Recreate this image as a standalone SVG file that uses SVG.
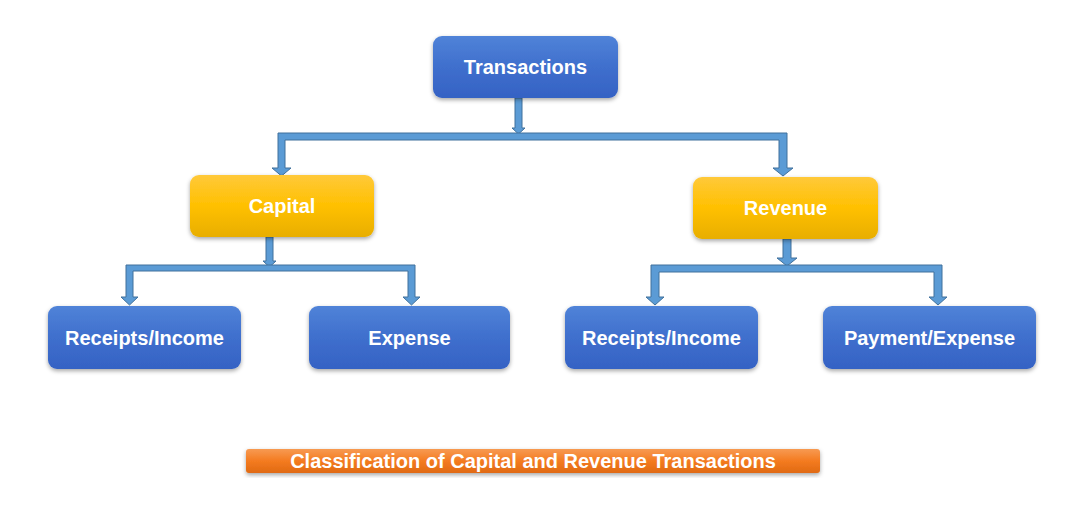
<svg xmlns="http://www.w3.org/2000/svg" width="1084" height="511" viewBox="0 0 1084 511">
<defs>
<linearGradient id="gBlue" x1="0" y1="0" x2="0" y2="1">
<stop offset="0" stop-color="#5083d8"/>
<stop offset="0.5" stop-color="#3f6fcd"/>
<stop offset="1" stop-color="#3562c4"/>
</linearGradient>
<linearGradient id="gYellow" x1="0" y1="0" x2="0" y2="1">
<stop offset="0" stop-color="#ffc93a"/>
<stop offset="0.5" stop-color="#ffc000"/>
<stop offset="1" stop-color="#e8ae00"/>
</linearGradient>
<linearGradient id="gOrange" x1="0" y1="0" x2="0" y2="1">
<stop offset="0" stop-color="#f79a52"/>
<stop offset="0.5" stop-color="#f47b20"/>
<stop offset="1" stop-color="#e06a12"/>
</linearGradient>
<filter id="sh" x="-10%" y="-10%" width="120%" height="130%">
<feDropShadow dx="0" dy="2" stdDeviation="2" flood-color="#000" flood-opacity="0.35"/>
</filter>
</defs>
<style>
.blue{fill:url(#gBlue);filter:url(#sh)}
.yel{fill:url(#gYellow);filter:url(#sh)}
.org{fill:url(#gOrange);filter:url(#sh)}
.t{font-family:"Liberation Sans",Arial,sans-serif;font-weight:bold;font-size:20px;fill:#fff;text-anchor:middle;dominant-baseline:central}
.c{font-size:20px}
.arr{fill:#5b9bd5;stroke:#41719c;stroke-width:1}
</style>
<rect width="1084" height="511" fill="#fff"/>
<g id="connectors">
<polygon class="arr" points="515,98 522,98 522,128 525,128 518.5,134 512,128 515,128"/>
<polygon class="arr" points="278,133 787,133 787,168 793,168 783,176 773,168 779,168 779,140 285,140 285,168 291,168 281.5,176 272,168 278,168"/>
<polygon class="arr" points="266,237 273,237 273,261 276,261 269.5,267 263,261 266,261"/>
<polygon class="arr" points="126,265 415,265 415,297 420,297 411.5,305 403,297 408,297 408,271 133,271 133,297 138,297 129.5,305 121,297 126,297"/>
<polygon class="arr" points="783,239 791,239 791,258 797,258 787,266 777,258 783,258"/>
<polygon class="arr" points="651,265 942,265 942,297 947,297 938,305 929,297 934,297 934,272 659,272 659,297 664,297 655,305 646,297 651,297"/>
</g>
<g id="transactions"><rect class="blue" x="433" y="36" width="185" height="62" rx="9"/><text class="t" x="525.5" y="67">Transactions</text></g>
<g id="capital"><rect class="yel" x="190" y="175" width="184" height="62" rx="9"/><text class="t" x="282" y="206">Capital</text></g>
<g id="revenue"><rect class="yel" x="693" y="177" width="185" height="62" rx="9"/><text class="t" x="785.5" y="208">Revenue</text></g>
<g id="cap-receipts"><rect class="blue" x="48" y="306" width="193" height="63" rx="9"/><text class="t" x="144.5" y="338">Receipts/Income</text></g>
<g id="cap-expense"><rect class="blue" x="309" y="306" width="201" height="63" rx="9"/><text class="t" x="409.5" y="338">Expense</text></g>
<g id="rev-receipts"><rect class="blue" x="565" y="306" width="193" height="63" rx="9"/><text class="t" x="661.5" y="338">Receipts/Income</text></g>
<g id="rev-payment"><rect class="blue" x="823" y="306" width="213" height="63" rx="9"/><text class="t" x="929.5" y="338">Payment/Expense</text></g>
<g id="caption"><rect class="org" x="246" y="449" width="574" height="24" rx="3"/><text class="t c" x="533" y="461">Classification of Capital and Revenue Transactions</text></g>
</svg>
